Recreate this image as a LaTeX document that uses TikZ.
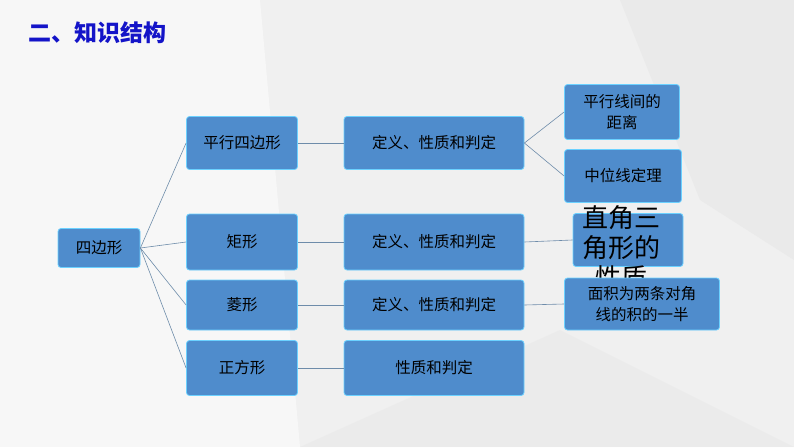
\documentclass[tikz,border=0pt]{standalone}
\usepackage{fontspec}
\newfontfamily\cjk{Noto Sans CJK SC}
\begin{document}
\begin{tikzpicture}[x=1pt,y=-1pt,
 bx/.style={draw=white!70!blue!60!cyan,line width=0.8pt,fill={rgb,255:red,79;green,140;blue,204},rounded corners=3pt,font=\cjk\fontsize{15.5}{21}\selectfont,text=black,align=center,inner sep=0pt},
 ln/.style={draw={rgb,255:red,110;green,140;blue,170},line width=0.6pt}]
\fill[gray!12] (0,0) rectangle (794,447);
\fill[white,opacity=0.5] (0,0) -- (260,0) -- (300,447) -- (0,447) -- cycle;
\fill[gray!20,opacity=0.5] (620,0) -- (794,0) -- (794,260) -- (700,200) -- cycle;
\fill[gray!20,opacity=0.4] (300,447) -- (560,330) -- (794,447) -- cycle;
\node[anchor=west,font=\cjk\bfseries\fontsize{23}{26}\selectfont,text={rgb,255:red,20;green,20;blue,200}] (t) at (25,33) {二、知识结构};
\node[bx,minimum width=82,minimum height=39] (s) at (99,248) {四边形};
\node[bx,minimum width=111,minimum height=53] (a1) at (242,143) {平行四边形};
\node[bx,minimum width=111,minimum height=56] (a2) at (242,242) {矩形};
\node[bx,minimum width=111,minimum height=50] (a3) at (242,305) {菱形};
\node[bx,minimum width=111,minimum height=55] (a4) at (242,368) {正方形};
\node[bx,minimum width=180,minimum height=53] (b1) at (434,143) {定义、性质和判定};
\node[bx,minimum width=180,minimum height=56] (b2) at (434,242) {定义、性质和判定};
\node[bx,minimum width=180,minimum height=50] (b3) at (434,305) {定义、性质和判定};
\node[bx,minimum width=180,minimum height=55] (b4) at (434,368) {性质和判定};
\node[bx,minimum width=115,minimum height=55] (c1) at (622,112) {平行线间的\\距离};
\node[bx,minimum width=117,minimum height=53] (c2) at (623,176) {中位线定理};
\node[bx,minimum width=110,minimum height=53] (c3) at (628,240) {};
\node[font=\cjk\fontsize{26}{30}\selectfont,align=center,text=black] (c3t) at (621,248) {直角三\\角形的\\性质};
\node[bx,minimum width=155,minimum height=52] (c4) at (642,304) {面积为两条对角\\线的积的一半};
\foreach \n in {a1,a2,a3,a4} \draw[ln] (s.east) -- (\n.west);
\foreach \n in {1,2,3,4} \draw[ln] (a\n.east) -- (b\n.west);
\draw[ln] (b1.east) -- (c1.west);
\draw[ln] (b1.east) -- (c2.west);
\draw[ln] (b2.east) -- (c3.west);
\draw[ln] (b3.east) -- (c4.west);
\end{tikzpicture}
\end{document}
